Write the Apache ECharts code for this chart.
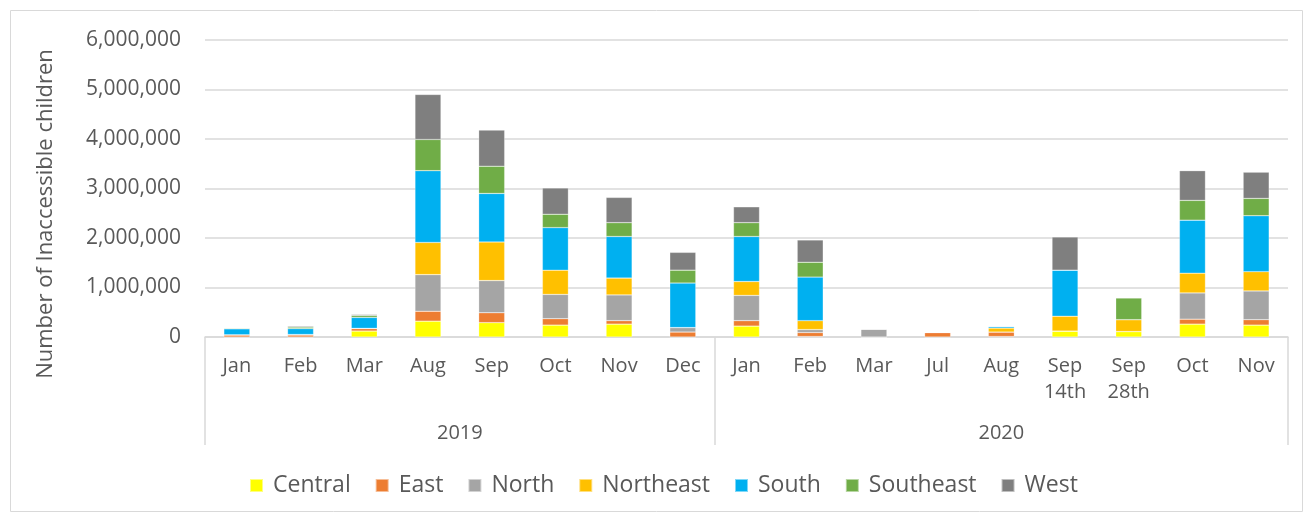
<!DOCTYPE html>
<html>
<head>
<meta charset="utf-8">
<script src="https://cdn.jsdelivr.net/npm/echarts@6/dist/echarts.min.js"></script>
<style>
    html, body { margin: 0; padding: 0; background: #fff; }
    #chart { width: 1307px; height: 517px; }
</style>
</head>
<body>
<div id="chart"></div>
<script>
// categories
var months = ['Jan', 'Feb', 'Mar', 'Aug', 'Sep', 'Oct', 'Nov', 'Dec',
    'Jan', 'Feb', 'Mar', 'Jul', 'Aug', 'Sep\n14th', 'Sep\n28th', 'Oct', 'Nov'];
var years = ['2019', '2020'];
var yearSpans = [8, 9];
var yTicks = [0, 1000000, 2000000, 3000000, 4000000, 5000000, 6000000];

// series values
var central   = [0, 0, 120000, 320000, 290000, 240000, 260000, 0, 220000, 10000, 0, 0, 10000, 120000, 110000, 260000, 240000];
var east      = [40000, 40000, 50000, 200000, 200000, 130000, 70000, 100000, 110000, 80000, 0, 90000, 90000, 0, 0, 100000, 110000];
var north     = [5000, 10000, 5000, 740000, 650000, 490000, 520000, 90000, 510000, 60000, 160000, 0, 0, 0, 0, 530000, 580000];
var northeast = [0, 0, 0, 650000, 780000, 490000, 340000, 0, 280000, 180000, 0, 0, 80000, 300000, 240000, 400000, 390000];
var south     = [120000, 120000, 220000, 1450000, 980000, 860000, 840000, 900000, 910000, 880000, 0, 0, 30000, 930000, 0, 1070000, 1130000];
var southeast = [15000, 30000, 40000, 630000, 550000, 270000, 280000, 260000, 280000, 300000, 0, 0, 10000, 0, 440000, 400000, 350000];
var west      = [5000, 20000, 20000, 910000, 730000, 530000, 510000, 360000, 320000, 450000, 0, 0, 0, 670000, 0, 600000, 530000];

var seriesNames = ['Central', 'East', 'North', 'Northeast', 'South', 'Southeast', 'West'];
var seriesData = [central, east, north, northeast, south, southeast, west];
var colors = ['#FFFF00', '#ED7D31', '#A5A5A5', '#FFC000', '#00B0F0', '#70AD47', '#7F7F7F'];

var font = "'Open Sans', sans-serif";
var textColor = '#595959';
var lineColor = '#d9d9d9';

// year group boundaries and centers on a 0..n value scale
var yearBounds = [0];
var yearCenters = [];
var acc = 0;
for (var k = 0; k < yearSpans.length; k++) {
    yearCenters.push(acc + yearSpans[k] / 2);
    acc += yearSpans[k];
    yearBounds.push(acc);
}

var series = [];
for (var i = 0; i < seriesNames.length; i++) {
    series.push({
        name: seriesNames[i],
        type: 'bar',
        stack: 'total',
        barWidth: 26,
        xAxisIndex: 0,
        itemStyle: {
            color: colors[i],
            borderColor: 'rgba(255,255,255,0.5)',
            borderWidth: 0.5
        },
        data: seriesData[i]
    });
}

var option = {
    animation: false,
    color: colors,
    textStyle: { fontFamily: font },
    grid: {
        left: 205,
        right: 19,
        top: 40,
        bottom: 180
    },
    legend: {
        left: 244,
        top: 469,
        itemWidth: 13,
        itemHeight: 13,
        itemGap: 24,
        icon: 'rect',
        textStyle: {
            fontFamily: font,
            fontSize: 23,
            color: textColor,
            padding: [0, 0, 0, 5]
        },
        data: seriesNames
    },
    xAxis: [
        {
            type: 'category',
            data: months,
            axisLine: { lineStyle: { color: lineColor, width: 1.5 } },
            axisTick: { show: false },
            axisLabel: {
                color: textColor,
                fontSize: 20,
                fontFamily: font,
                margin: 16,
                lineHeight: 26,
                interval: 0
            }
        },
        {
            type: 'value',
            position: 'bottom',
            min: 0,
            max: acc,
            axisLine: { show: false },
            splitLine: { show: false },
            axisTick: {
                show: true,
                customValues: yearBounds,
                length: 108,
                lineStyle: { color: lineColor, width: 1.5 }
            },
            axisLabel: {
                customValues: yearCenters,
                color: textColor,
                fontSize: 20,
                fontFamily: font,
                margin: 86,
                formatter: function (v) {
                    for (var j = 0; j < yearCenters.length; j++) {
                        if (Math.abs(v - yearCenters[j]) < 0.01) return years[j];
                    }
                    return '';
                }
            }
        }
    ],
    yAxis: {
        type: 'value',
        min: yTicks[0],
        max: yTicks[yTicks.length - 1],
        interval: yTicks[1] - yTicks[0],
        axisLine: { show: false },
        axisTick: { show: false },
        splitLine: { lineStyle: { color: lineColor, width: 1.5 } },
        axisLabel: {
            color: textColor,
            fontSize: 21,
            fontFamily: font,
            margin: 24,
            formatter: function (v) {
                return v.toLocaleString('en-US');
            }
        }
    },
    graphic: [
        {
            type: 'rect',
            shape: { x: 10.5, y: 10.5, width: 1292, height: 501 },
            style: { fill: 'none', stroke: lineColor, lineWidth: 1 },
            silent: true,
            z: -1
        },
        {
            type: 'text',
            x: 46,
            y: 214,
            rotation: Math.PI / 2,
            style: {
                text: 'Number of Inaccessible children',
                fontSize: 22,
                fontFamily: font,
                fill: textColor,
                textAlign: 'center',
                textVerticalAlign: 'middle'
            }
        }
    ],
    series: series
};

var chart = echarts.init(document.getElementById('chart'));
chart.setOption(option);
</script>
</body>
</html>
